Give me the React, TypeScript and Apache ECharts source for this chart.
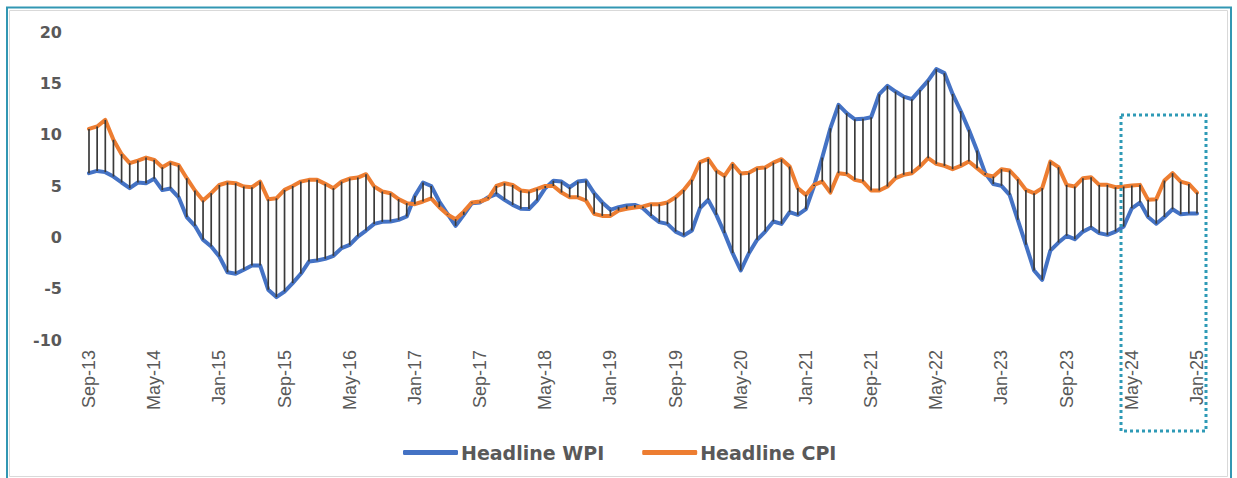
import React, { useEffect, useRef } from "react";
import * as echarts from "echarts";

const MONTHS = ["Jan", "Feb", "Mar", "Apr", "May", "Jun", "Jul", "Aug", "Sep", "Oct", "Nov", "Dec"];
const START_YEAR = 2013;
const START_MONTH = 8; // Sep
const COUNT = 137; // Sep-13 .. Jan-25
const categories: string[] = [];
for (let k = 0; k < COUNT; k++) {
  const m = (START_MONTH + k) % 12;
  const y = START_YEAR + Math.floor((START_MONTH + k) / 12);
  categories.push(`${MONTHS[m]}-${String(y % 100).padStart(2, "0")}`);
}

const wpi: number[] = [
  6.25, 6.47, 6.35, 5.92, 5.34, 4.79, 5.34, 5.27, 5.7, 4.6,
  4.75, 3.9, 1.97, 1.12, -0.24, -0.9, -1.87, -3.4, -3.55, -3.16,
  -2.74, -2.74, -5.1, -5.82, -5.28, -4.46, -3.55, -2.36, -2.26, -2.09,
  -1.8, -1.05, -0.73, 0.08, 0.66, 1.31, 1.51, 1.54, 1.7, 2.03,
  4.04, 5.34, 5.0, 3.49, 2.29, 1.12, 2.19, 3.33, 3.4, 3.9,
  4.2, 3.65, 3.16, 2.78, 2.76, 3.58, 4.79, 5.51, 5.43, 4.88,
  5.43, 5.53, 4.3, 3.4, 2.68, 2.94, 3.1, 3.16, 2.84, 2.09,
  1.48, 1.31, 0.56, 0.18, 0.66, 2.84, 3.65, 2.19, 0.41, -1.54,
  -3.23, -1.55, -0.24, 0.56, 1.54, 1.31, 2.45, 2.19, 2.74, 5.01,
  7.77, 10.63, 12.9, 12.09, 11.5, 11.54, 11.7, 13.94, 14.75, 14.2,
  13.71, 13.46, 14.36, 15.27, 16.38, 15.99, 13.97, 12.3, 10.47, 8.45,
  6.25, 5.2, 5.01, 4.14, 1.7, -0.73, -3.23, -4.14, -1.29, -0.51,
  0.15, -0.18, 0.56, 0.95, 0.41, 0.24, 0.56, 1.05, 2.83, 3.39,
  1.98, 1.33, 1.98, 2.73, 2.24, 2.31, 2.31,
];

const cpi: number[] = [
  10.56, 10.8, 11.44, 9.5, 8.1, 7.22, 7.48, 7.77, 7.55, 6.83,
  7.28, 7.03, 5.76, 4.56, 3.58, 4.3, 5.1, 5.34, 5.27, 4.95,
  4.88, 5.43, 3.7, 3.8, 4.62, 5.0, 5.43, 5.6, 5.6, 5.21,
  4.79, 5.43, 5.73, 5.82, 6.15, 4.95, 4.46, 4.3, 3.72, 3.33,
  3.23, 3.49, 3.8, 2.94, 2.22, 1.77, 2.5, 3.4, 3.49, 3.78,
  5.0, 5.27, 5.1, 4.56, 4.46, 4.72, 5.0, 5.0, 4.36, 3.9,
  3.9, 3.58, 2.29, 2.09, 2.09, 2.6, 2.78, 2.9, 3.0, 3.23,
  3.23, 3.4, 3.9, 4.62, 5.6, 7.32, 7.64, 6.5, 5.99, 7.15,
  6.22, 6.3, 6.74, 6.8, 7.28, 7.61, 6.9, 4.79, 4.14, 5.11,
  5.43, 4.36, 6.25, 6.15, 5.6, 5.43, 4.56, 4.56, 4.95, 5.76,
  6.09, 6.25, 6.9, 7.71, 7.16, 6.96, 6.64, 6.96, 7.38, 6.74,
  6.09, 5.92, 6.64, 6.51, 5.66, 4.62, 4.3, 4.79, 7.38, 6.83,
  5.11, 4.95, 5.76, 5.86, 5.11, 5.11, 4.88, 4.95, 5.04, 5.11,
  3.65, 3.72, 5.53, 6.25, 5.43, 5.2, 4.36,
];

const Y_MIN = -10;
const Y_MAX = 20;
const Y_STEP = 5;
const seriesNames = ["Headline WPI", "Headline CPI"];

export default function App() {
  const ref = useRef<HTMLDivElement>(null);
  useEffect(() => {
    if (!ref.current) return;
    const chart = echarts.init(ref.current, undefined, { renderer: "svg" });
    const gray = "#595959";
    chart.setOption({
      animation: false,
      backgroundColor: "#ffffff",
      grid: { left: 89, right: 40, top: 32, bottom: 138, containLabel: false },
      legend: {
        data: seriesNames,
        left: 398,
        top: 438,
        icon: "roundRect",
        itemWidth: 55,
        itemHeight: 5,
        itemGap: 38,
        textStyle: { color: gray, fontSize: 19, fontWeight: "bold", fontFamily: "DejaVu Sans", padding: [0, 0, 0, -2] },
      },
      xAxis: {
        type: "category",
        data: categories,
        boundaryGap: false,
        axisLine: { show: false },
        axisTick: { show: false },
        splitLine: { show: false },
        axisLabel: {
          interval: 7,
          rotate: 90,
          margin: 10,
          color: gray,
          fontSize: 18,
          fontFamily: "Liberation Sans",
        },
      },
      yAxis: {
        type: "value",
        min: Y_MIN,
        max: Y_MAX,
        interval: Y_STEP,
        axisLine: { show: false },
        axisTick: { show: false },
        splitLine: { show: false },
        axisLabel: {
          margin: 27,
          color: gray,
          fontSize: 16,
          fontWeight: "bold",
          fontFamily: "DejaVu Sans",
        },
      },
      series: [
        {
          name: seriesNames[0],
          type: "line",
          data: wpi,
          symbol: "none",
          lineStyle: { color: "#4472C4", width: 4, cap: "round", join: "round" },
          itemStyle: { color: "#4472C4" },
          z: 2,
        },
        {
          name: seriesNames[1],
          type: "line",
          data: cpi,
          symbol: "none",
          lineStyle: { color: "#ED7D31", width: 4, cap: "round", join: "round" },
          itemStyle: { color: "#ED7D31" },
          z: 2,
        },
        {
          type: "custom",
          data: wpi.map((w, i) => [i, w, cpi[i]]),
          encode: { x: 0, y: [1, 2] },
          z: 3,
          silent: true,
          renderItem: (params: any, api: any) => {
            const a = api.coord([api.value(0), api.value(1)]);
            const b = api.coord([api.value(0), api.value(2)]);
            return {
              type: "line",
              shape: { x1: a[0], y1: a[1], x2: b[0], y2: b[1] },
              style: { stroke: "#3a3a3a", lineWidth: 1.7 },
            };
          },
        },
      ],
      graphic: [
        {
          type: "rect",
          shape: { x: 9.5, y: 10.5, width: 1218, height: 466 },
          style: { fill: "none", stroke: "#d9d9d9", lineWidth: 1 },
          silent: true,
        },
        {
          type: "rect",
          shape: { x: 7, y: 7.5, width: 1224, height: 480 },
          style: { fill: "none", stroke: "#3297b3", lineWidth: 2 },
          silent: true,
        },
        {
          type: "rect",
          shape: { x: 1121, y: 115, width: 85, height: 316 },
          style: { fill: "none", stroke: "#2e9ab6", lineWidth: 3, lineDash: [3, 3] },
          silent: true,
          z: 10,
        },
      ],
    });
    return () => chart.dispose();
  }, []);
  return (
    <div
      ref={ref}
      style={{ position: "fixed", left: 0, top: 0, width: 1237, height: 478 }}
    />
  );
}
